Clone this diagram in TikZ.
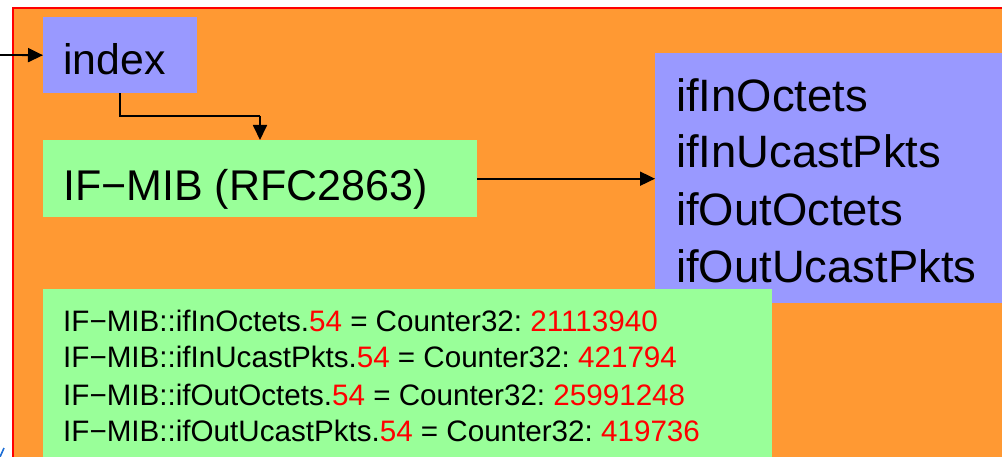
\documentclass[tikz,border=0pt]{standalone}
\usepackage{fontspec}
\setmainfont{Liberation Sans}
\usetikzlibrary{arrows.meta,calc}
\definecolor{bgorange}{HTML}{FF9933}
\definecolor{boxblue}{HTML}{9999FF}
\definecolor{boxgreen}{HTML}{99FF99}
\definecolor{valred}{HTML}{FF0000}
\definecolor{markblue}{HTML}{1F6FD6}
\newcommand{\val}[1]{\textcolor{valred}{#1}}
\frenchspacing
\tikzset{
  panel/.style={draw=none, anchor=north west, inner sep=0pt},
  bigtxt/.style={anchor=base west, inner sep=0pt, font=\fontsize{43}{50}\selectfont},
  listtxt/.style={anchor=base west, inner sep=0pt, font=\fontsize{45.4}{50}\selectfont},
  smalltxt/.style={anchor=base west, inner sep=0pt, font=\fontsize{29.6}{34}\selectfont},
  arr/.style={-{Triangle[length=15pt,width=14pt]}, line width=1.8pt, black}
}
\begin{document}
\begin{tikzpicture}[x=1pt,y=-1pt]
  \path[use as bounding box] (0,0) rectangle (1002,457);
  \clip (0,0) rectangle (1002,457);
  % background frame
  \draw[draw=red, line width=2pt, fill=bgorange] (13,8) rectangle (1030,490);

  % index box
  \node[panel, fill=boxblue, minimum width=154pt, minimum height=76pt] (index) at (43,17) {};
  \node[bigtxt, font=\fontsize{42.8}{50}\selectfont] (indextxt) at (63,75) {index};

  % IF-MIB box
  \node[panel, fill=boxgreen, minimum width=434pt, minimum height=77pt] (mib) at (43,140) {};
  \node[bigtxt] (mibtxt) at (63,201) {IF−MIB (RFC2863)};

  % object list
  \node[panel, fill=boxblue, minimum width=380pt, minimum height=250pt] (objs) at (655,53) {};
  \node[listtxt] (o1) at (676,112) {ifInOctets};
  \node[listtxt] (o2) at (676,168) {ifInUcastPkts};
  \node[listtxt] (o3) at (676,226) {ifOutOctets};
  \node[listtxt] (o4) at (676,283) {ifOutUcastPkts};

  % snmpget output
  \node[panel, fill=boxgreen, minimum width=729pt, minimum height=200pt] (out) at (43,289) {};
  \node[smalltxt] (r1) at (63,331) {IF−MIB::ifInOctets.\val{54} = Counter32: \val{21113940}};
  \node[smalltxt] (r2) at (63,367) {IF−MIB::ifInUcastPkts.\val{54} = Counter32: \val{421794}};
  \node[smalltxt] (r3) at (63,405) {IF−MIB::ifOutOctets.\val{54} = Counter32: \val{25991248}};
  \node[smalltxt] (r4) at (63,441) {IF−MIB::ifOutUcastPkts.\val{54} = Counter32: \val{419736}};

  % connectors
  \coordinate (src) at (0,55);
  \draw[arr] (src) -- (index.west);
  \coordinate (bend) at (260,116);
  \draw[line width=1.8pt] ($(index.south west)+(77,0)$) |- (bend);
  \draw[arr] (bend) -- (bend |- mib.north);
  \draw[arr] (mib.east) -- (mib.east -| objs.west);

  % edge mark
  \coordinate (m1) at (0,457);
  \coordinate (m2) at (4,448);
  \draw[markblue, line width=1.6pt] (m1) -- (m2);
\end{tikzpicture}
\end{document}
